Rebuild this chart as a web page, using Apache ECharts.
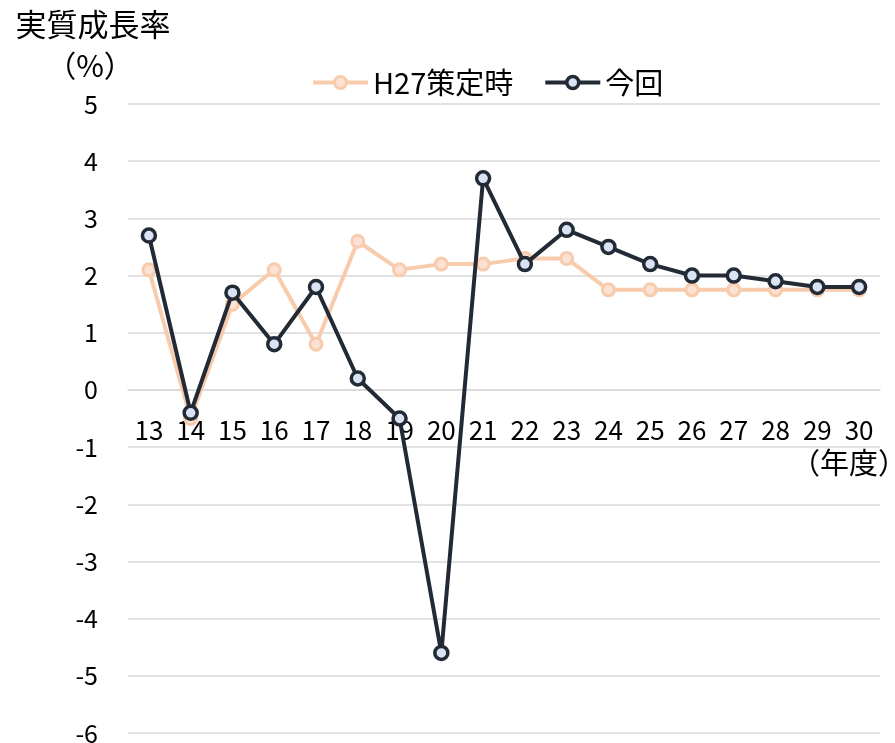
<!DOCTYPE html>
<html>
<head>
<meta charset="utf-8">
<script src="https://cdn.jsdelivr.net/npm/echarts@6/dist/echarts.min.js"></script>
<style>html,body{margin:0;padding:0;background:#fff}#c{width:895px;height:743px}</style>
</head>
<body>
<div id="c"></div>
<script>
const categories = ['13','14','15','16','17','18','19','20','21','22','23','24','25','26','27','28','29','30'];
const seriesNames = ['H27策定時', '今回'];
const h27Values = [2.1, -0.5, 1.5, 2.1, 0.8, 2.6, 2.1, 2.2, 2.2, 2.3, 2.3, 1.75, 1.75, 1.75, 1.75, 1.75, 1.75, 1.75];
const currentValues = [2.7, -0.4, 1.7, 0.8, 1.8, 0.2, -0.5, -4.6, 3.7, 2.2, 2.8, 2.5, 2.2, 2.0, 2.0, 1.9, 1.8, 1.8];
const yTitle = ['実質成長率', '（%）'];
const xUnit = '（年度）';
const yMin = -6, yMax = 5;

const FONT = '"Noto Sans CJK JP", "Noto Sans", sans-serif';
const ORANGE = '#f8cbad', ORANGE_FILL = '#fbe2d5';
const DARK = '#222a35', DARK_FILL = '#dae3f3';
const GRID_TOP = 104, GRID_BOTTOM = 10, H = 743;
const plotH = H - GRID_TOP - GRID_BOTTOM;
// shift the category axis up to the zero line of the value axis
const zeroOffset = -plotH * (0 - yMin) / (yMax - yMin);

const chart = echarts.init(document.getElementById('c'), null, {renderer: 'canvas'});
chart.setOption({
  animation: false,
  backgroundColor: '#fff',
  textStyle: {fontFamily: FONT},
  grid: {left: 128, right: 15, top: GRID_TOP, bottom: GRID_BOTTOM, containLabel: false, outerBoundsMode: 'none'},
  legend: {
    left: 306, top: 63,
    itemWidth: 55, itemHeight: 15, itemGap: 30,
    textStyle: {fontSize: 29, color: '#000', fontFamily: FONT},
    data: [
      {name: seriesNames[0], lineStyle: {color: ORANGE, width: 4}, itemStyle: {color: ORANGE_FILL, borderColor: ORANGE, borderWidth: 3}},
      {name: seriesNames[1], lineStyle: {color: DARK, width: 4}, itemStyle: {color: DARK_FILL, borderColor: DARK, borderWidth: 3.5}}
    ]
  },
  graphic: [
    {type: 'text', style: {text: yTitle[0], fontSize: 31, fill: '#000', fontFamily: FONT, align: 'center'}, position: [93, 9]},
    {type: 'text', style: {text: yTitle[1], fontSize: 30, fill: '#000', fontFamily: FONT, align: 'center'}, position: [90, 51]},
    {type: 'text', style: {text: xUnit, fontSize: 29, fill: '#000', fontFamily: FONT, align: 'center'}, position: [849, 448]}
  ],
  xAxis: {
    type: 'category',
    data: categories,
    boundaryGap: true,
    position: 'bottom',
    offset: zeroOffset,
    axisLine: {show: true, onZero: false, lineStyle: {color: '#d9d9d9', width: 1.5}},
    axisTick: {show: false},
    axisLabel: {fontSize: 26, color: '#000', margin: 27, interval: 0, fontFamily: FONT},
    splitLine: {show: false}
  },
  yAxis: {
    type: 'value',
    min: yMin, max: yMax, interval: 1,
    axisLine: {show: false},
    axisTick: {show: false},
    axisLabel: {fontSize: 25, color: '#000', margin: 30, fontFamily: FONT},
    splitLine: {show: true, lineStyle: {color: '#d9d9d9', width: 1.5}}
  },
  series: [
    {
      name: seriesNames[0], type: 'line', data: h27Values,
      symbol: 'circle', symbolSize: 12,
      lineStyle: {color: ORANGE, width: 4},
      itemStyle: {color: ORANGE_FILL, borderColor: ORANGE, borderWidth: 3},
      z: 2
    },
    {
      name: seriesNames[1], type: 'line', data: currentValues,
      symbol: 'circle', symbolSize: 13,
      lineStyle: {color: DARK, width: 4},
      itemStyle: {color: DARK_FILL, borderColor: DARK, borderWidth: 3.5},
      z: 3
    }
  ]
});
</script>
</body>
</html>
